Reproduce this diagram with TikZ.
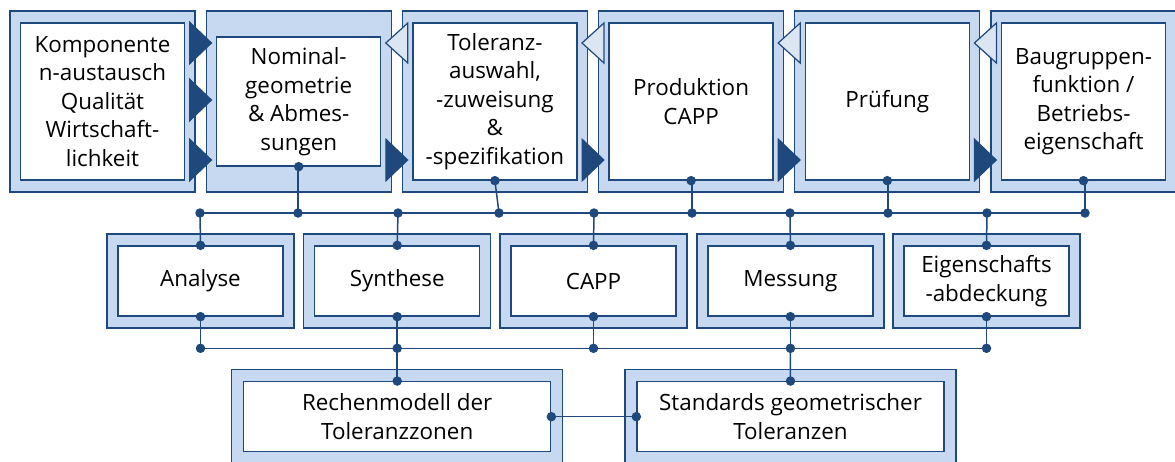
\documentclass[tikz,border=0pt]{standalone}
\usepackage{fontspec}
\setmainfont{Open Sans}
\definecolor{navy}{RGB}{31,73,125}
\definecolor{paleblue}{RGB}{198,217,241}
\definecolor{lightblue}{RGB}{220,230,242}
\tikzset{
  outerbox/.style={draw=navy, fill=paleblue, line width=1.3pt, inner sep=0pt},
  innerbox/.style={draw=navy, fill=white, line width=1.3pt, inner sep=0pt,
    align=center, font=\fontsize{22.4}{28.5}\selectfont},
  dot/.style={circle, fill=navy, inner sep=0pt, minimum size=9.5pt},
  link/.style={draw=navy, line width=1.5pt},
  fwdtri/.pic={\filldraw[navy, line width=1pt] (-11,-21) -- (11,0) -- (-11,21) -- cycle;},
  backtri/.pic={\filldraw[draw=navy, fill=lightblue, line width=1.2pt] (11,-20) -- (-11,0) -- (11,20) -- cycle;},
}
\begin{document}
\begin{tikzpicture}[x=1pt,y=-1pt]
\useasboundingbox (0,0) rectangle (1175,461);
\clip (0,0) rectangle (1175,461);

% ---- process chain (top row) ----
\foreach \i/\cx in {1/102.5,2/298.7,3/494.9,4/691.1,5/887.3,6/1083.5}
  \node[outerbox, minimum width=185pt, minimum height=181pt] (o\i) at (\cx,101.5) {};

\node[innerbox, minimum width=164pt, minimum height=157pt] (t1) at (102.5,101.5)
  {Komponente\\n-austausch\\Qualität\\Wirtschaft-\\lichkeit};
\node[innerbox, minimum width=164pt, minimum height=129pt] (t2) at (298.7,101.5)
  {Nominal-\\geometrie\\\& Abmes-\\sungen};
\node[innerbox, minimum width=164pt, minimum height=157pt] (t3) at (494.9,101.5)
  {Toleranz-\\auswahl,\\-zuweisung\\\&\\-spezifikation};
\node[innerbox, minimum width=164pt, minimum height=157pt] (t4) at (691.1,101.5)
  {Produktion\\CAPP};
\node[innerbox, minimum width=164pt, minimum height=157pt] (t5) at (887.3,101.5)
  {Prüfung};
\node[innerbox, minimum width=164pt, minimum height=157pt] (t6) at (1083.5,101.5)
  {Baugruppen-\\funktion /\\Betriebs-\\eigenschaft};

% flow markers between the steps
\foreach \y in {43,100,160} \pic at (200.6,\y) {fwdtri};
\foreach \x in {396.8,593,789.2,985.4} {
  \pic at (\x,43) {backtri};
  \pic at (\x,160) {fwdtri};
}

% ---- methods (middle row) ----
\foreach \i/\cx/\txt in {1/200.5/Analyse,2/397.2/Synthese,3/593.5/CAPP,4/790.4/Messung,5/986.5/{Eigenschafts\\-abdeckung}} {
  \node[outerbox, minimum width=187pt, minimum height=94pt] (p\i) at (\cx,281) {};
  \node[innerbox, minimum width=165pt, minimum height=70pt] (m\i) at (\cx,281) {\txt};
}

% ---- foundations (bottom row) ----
\node[outerbox, minimum width=331pt, minimum height=95pt] (q1) at (397.2,416.7) {};
\node[innerbox, minimum width=307pt, minimum height=70pt] (b1) at (397.2,416.7)
  {Rechenmodell der\\Toleranzzonen};
\node[outerbox, minimum width=331pt, minimum height=95pt] (q2) at (790.5,416.7) {};
\node[innerbox, minimum width=307pt, minimum height=70pt] (b2) at (790.5,416.7)
  {Standards geometrischer\\Toleranzen};

% ---- upper bus ----
\foreach \n/\x in {a/200,b/298,c/398,d/499,e/594,f/692,g/790,h/888,i/987,j/1085}
  \coordinate (u\n) at (\x,213);
\path[link] (ua) -- (uj);
\path[link] (t2.south -| ub) -- (ub);
\path[link] (t3.south) -- (ud);
\path[link] (t4.south -| uf) -- (uf);
\path[link] (t5.south -| uh) -- (uh);
\path[link] (t6.south -| uj) -- (uj);
\path[link] (ua) -- (m1.north);
\path[link] (uc) -- (m2.north);
\path[link] (ue) -- (m3.north);
\path[link] (ug) -- (m4.north);
\path[link] (ui) -- (m5.north);

% ---- lower bus ----
\foreach \n/\x in {a/200.5,b/397.2,c/593.5,d/790.4,e/986.5}
  \coordinate (l\n) at (\x,348.3);
\path[link] (la) -- (le);
\foreach \k/\n in {1/a,2/b,3/c,4/d,5/e}
  \path[link] (m\k.south) -- (l\n);
\path[link] (lb) -- (b1.north);
\path[link] (ld) -- (b2.north);
\path[link] (b1.east) -- (b2.west);

% ---- junction dots ----
\foreach \p in {ua,ub,uc,ud,ue,uf,ug,uh,ui,uj,la,lb,lc,ld,le,
                t2.south,t3.south,t4.south,t5.south,t6.south,
                m1.north,m2.north,m3.north,m4.north,m5.north,
                m1.south,m2.south,m3.south,m4.south,m5.south,
                b1.north,b2.north,b1.east,b2.west}
  \node[dot] at (\p) {};
\end{tikzpicture}
\end{document}
